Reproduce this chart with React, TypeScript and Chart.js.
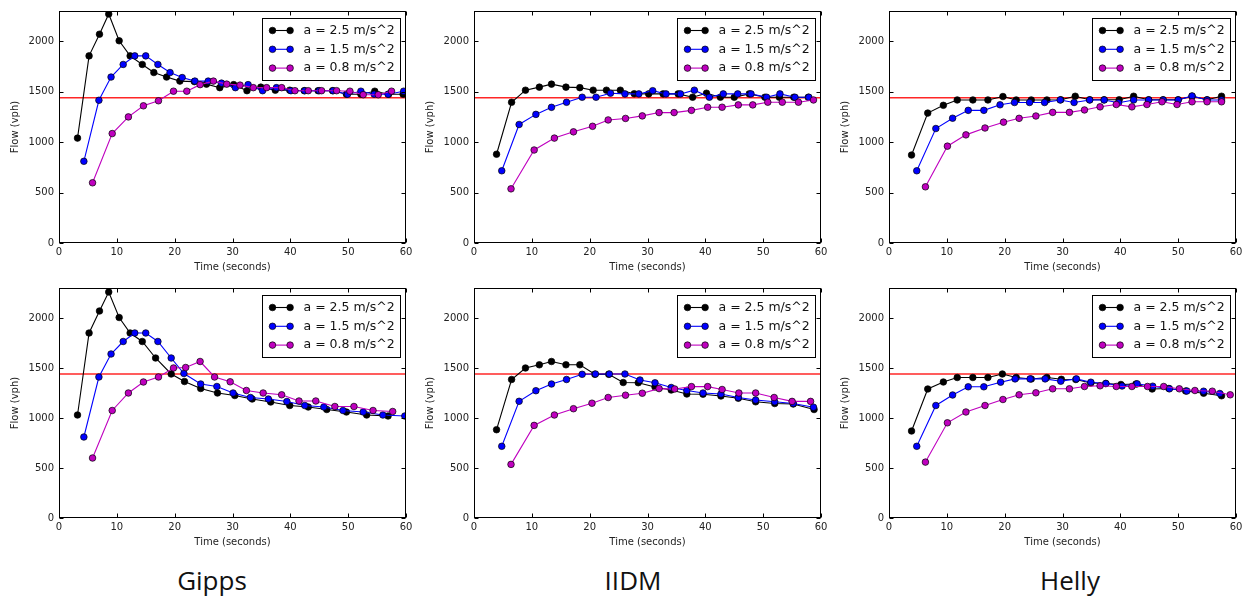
import React, { useEffect, useRef } from "react";
import { Chart, registerables } from "chart.js";

Chart.register(...registerables);

// ---------- axes / labels ----------
const xTickValues = [0, 10, 20, 30, 40, 50, 60];
const yTickValues = [0, 500, 1000, 1500, 2000];
const xMin = 0;
const xMax = 60;
const yMin = 0;
const yMax = 2300;
const capacityFlow = 1440;
const xTitle = "Time (seconds)";
const yTitle = "Flow (vph)";
const seriesLabels = ["a = 2.5 m/s^2", "a = 1.5 m/s^2", "a = 0.8 m/s^2"];
const seriesColors = ["#000000", "#0000ff", "#bf00bf"];
const modelNames = ["Gipps", "IIDM", "Helly"];

// ---------- data: [time (s), flow (vph)] ----------
const gippsTopA25: [number, number][] = [[3.2,1040],[5.2,1855],[7.0,2070],[8.6,2270],[10.4,2005],[12.3,1855],[14.4,1770],[16.4,1690],[18.6,1645],[20.9,1605],[23.4,1600],[25.5,1575],[27.8,1540],[30.2,1570],[32.5,1510],[34.9,1545],[37.4,1515],[39.9,1515],[42.4,1510],[44.8,1510],[47.3,1510],[49.7,1475],[52.2,1475],[54.6,1505],[57.0,1475],[59.5,1475]];
const gippsTopA15: [number, number][] = [[4.3,810],[6.9,1415],[9.0,1645],[11.1,1770],[13.1,1855],[15.0,1855],[17.1,1770],[19.2,1690],[21.3,1640],[23.5,1605],[25.8,1605],[28.1,1585],[30.5,1540],[32.7,1570],[35.2,1510],[37.6,1540],[40.1,1510],[42.5,1510],[45.0,1510],[47.4,1510],[49.9,1475],[52.2,1505],[54.5,1475],[56.9,1475],[59.6,1505]];
const gippsTopA08: [number, number][] = [[5.8,597],[9.2,1085],[12.0,1250],[14.6,1360],[17.2,1410],[19.8,1505],[22.1,1505],[24.4,1570],[26.7,1605],[29.0,1575],[31.3,1565],[33.6,1540],[35.9,1540],[38.5,1540],[40.8,1510],[43.1,1510],[45.4,1510],[48.0,1510],[50.3,1505],[52.6,1470],[55.2,1470],[57.5,1505]];

const gippsBotA25: [number, number][] = [[3.2,1030],[5.2,1850],[7.0,2070],[8.6,2260],[10.4,2005],[12.3,1850],[14.4,1765],[16.7,1600],[19.4,1440],[21.7,1365],[24.5,1295],[27.4,1250],[30.4,1225],[33.4,1190],[36.6,1160],[39.9,1125],[43.1,1110],[46.3,1085],[49.7,1060],[53.2,1030],[56.9,1020]];
const gippsBotA15: [number, number][] = [[4.3,810],[6.9,1410],[9.0,1640],[11.1,1765],[13.1,1850],[15.0,1850],[17.1,1765],[19.4,1600],[21.6,1445],[24.5,1340],[27.3,1315],[30.1,1250],[33.1,1205],[36.2,1190],[39.4,1165],[42.5,1125],[45.8,1110],[49.1,1075],[52.6,1060],[56.0,1030],[59.8,1020]];
const gippsBotA08: [number, number][] = [[5.8,600],[9.2,1075],[12.0,1250],[14.6,1360],[17.2,1410],[19.8,1500],[21.9,1505],[24.4,1565],[26.9,1410],[29.6,1362],[32.4,1275],[35.3,1250],[38.5,1232],[41.5,1170],[44.4,1170],[47.7,1115],[51.0,1115],[54.3,1075],[57.7,1065]];

const iidmTopA25: [number, number][] = [[3.9,880],[6.5,1395],[8.9,1515],[11.3,1545],[13.4,1575],[15.9,1545],[18.3,1540],[20.6,1515],[22.9,1515],[25.3,1515],[27.7,1480],[30.2,1478],[32.7,1478],[35.3,1478],[37.8,1445],[40.2,1485],[42.6,1445],[45.0,1445],[47.6,1478],[50.3,1445],[52.8,1445],[55.3,1445],[57.8,1445]];
const iidmTopA15: [number, number][] = [[4.8,716],[7.8,1175],[10.7,1275],[13.4,1345],[16.0,1395],[18.7,1445],[21.1,1445],[23.6,1485],[26.1,1478],[28.5,1478],[30.9,1510],[33.2,1478],[35.7,1478],[38.1,1515],[40.7,1445],[43.1,1478],[45.6,1478],[47.9,1478],[50.6,1445],[52.9,1478],[55.5,1445],[57.9,1445]];
const iidmTopA08: [number, number][] = [[6.4,537],[10.4,922],[13.9,1040],[17.2,1102],[20.5,1157],[23.2,1220],[26.2,1235],[29.1,1260],[32.0,1293],[34.6,1293],[37.6,1315],[40.4,1346],[42.9,1346],[45.7,1369],[48.2,1369],[50.8,1396],[53.3,1396],[56.1,1396],[58.7,1418]];

const iidmBotA25: [number, number][] = [[3.9,883],[6.5,1385],[8.9,1500],[11.3,1532],[13.4,1565],[15.9,1532],[18.3,1532],[20.9,1437],[23.3,1437],[25.8,1355],[28.4,1353],[31.3,1310],[34.1,1280],[36.8,1240],[39.6,1238],[42.7,1220],[45.7,1198],[48.7,1162],[52.0,1145],[55.2,1140],[58.8,1085]];
const iidmBotA15: [number, number][] = [[4.8,717],[7.8,1167],[10.7,1273],[13.4,1340],[16.0,1385],[18.7,1437],[21.0,1440],[23.4,1440],[26.1,1440],[28.7,1380],[31.3,1352],[34.1,1305],[36.8,1275],[39.6,1250],[42.7,1240],[45.7,1205],[48.7,1180],[52.0,1162],[55.2,1145],[58.7,1108]];
const iidmBotA08: [number, number][] = [[6.4,536],[10.4,926],[13.9,1030],[17.2,1093],[20.4,1148],[23.2,1205],[26.2,1228],[29.1,1248],[32.0,1294],[34.7,1290],[37.6,1314],[40.4,1314],[42.9,1285],[45.8,1250],[48.7,1250],[51.9,1205],[55.0,1166],[58.2,1166]];

const hellyTopA25: [number, number][] = [[3.9,872],[6.7,1288],[9.4,1365],[11.8,1418],[14.5,1418],[17.1,1418],[19.7,1452],[22.0,1418],[24.6,1418],[27.3,1418],[29.7,1420],[32.2,1455],[34.7,1420],[37.2,1420],[39.8,1420],[42.3,1455],[44.9,1420],[47.4,1420],[50.0,1420],[52.4,1455],[55.0,1420],[57.5,1455]];
const hellyTopA15: [number, number][] = [[4.8,716],[8.1,1135],[11.0,1237],[13.7,1315],[16.4,1315],[19.2,1370],[21.7,1393],[24.3,1393],[26.9,1393],[29.6,1418],[32.0,1393],[34.7,1418],[37.2,1418],[39.7,1390],[42.3,1418],[44.9,1418],[47.4,1418],[50.0,1418],[52.4,1458],[55.0,1418],[57.5,1418]];
const hellyTopA08: [number, number][] = [[6.3,557],[10.1,960],[13.3,1072],[16.6,1140],[19.8,1198],[22.5,1236],[25.4,1259],[28.3,1295],[31.2,1295],[33.8,1319],[36.5,1350],[39.3,1373],[42.0,1350],[44.6,1373],[47.2,1400],[49.8,1373],[52.4,1400],[55.0,1400],[57.5,1400]];

const hellyBotA25: [number, number][] = [[3.9,870],[6.7,1290],[9.4,1360],[11.8,1405],[14.5,1405],[17.1,1405],[19.6,1440],[22.0,1405],[24.6,1390],[27.3,1405],[29.8,1387],[32.3,1385],[34.9,1350],[37.5,1345],[40.1,1335],[42.7,1340],[45.5,1290],[48.4,1295],[51.3,1270],[54.4,1248],[57.5,1222]];
const hellyBotA15: [number, number][] = [[4.8,717],[8.1,1125],[11.0,1230],[13.7,1312],[16.4,1312],[19.3,1358],[21.8,1391],[24.4,1391],[27.0,1391],[29.7,1368],[32.4,1391],[34.9,1358],[37.5,1345],[40.3,1320],[42.9,1342],[45.6,1318],[48.5,1292],[51.5,1270],[54.4,1268],[57.2,1245]];
const hellyBotA08: [number, number][] = [[6.3,559],[10.1,952],[13.3,1060],[16.6,1125],[19.7,1185],[22.5,1232],[25.4,1252],[28.3,1292],[31.2,1292],[33.8,1315],[36.5,1322],[39.3,1315],[42.0,1315],[44.7,1315],[47.5,1315],[50.2,1292],[52.9,1275],[55.9,1268],[59.0,1232]];

// ---------- layout ----------
const PLOT_W = 347;
const AXIS_W = 50;
const PAD_TOP = 10;
const PAD_RIGHT = 12;
const AXIS_H = 30;
const FONT = "'DejaVu Sans', 'Liberation Sans', sans-serif";

const framePlugin = {
  id: "mplFrame",
  afterDraw(chart: any) {
    const { ctx, chartArea: a, scales } = chart;
    const xs = scales.x;
    const ys = scales.y;
    ctx.save();
    ctx.strokeStyle = "#000";
    ctx.lineWidth = 1;
    const L = Math.round(a.left) + 0.5;
    const R = Math.round(a.right) - 0.5;
    const T = Math.round(a.top) + 0.5;
    const B = Math.round(a.bottom) - 0.5;
    const tl = 4;
    ctx.beginPath();
    for (const v of xTickValues) {
      const px = Math.round(xs.getPixelForValue(v)) + 0.5;
      ctx.moveTo(px, B); ctx.lineTo(px, B - tl);
      ctx.moveTo(px, T); ctx.lineTo(px, T + tl);
    }
    for (const v of yTickValues) {
      const py = Math.round(ys.getPixelForValue(v)) + 0.5;
      ctx.moveTo(L, py); ctx.lineTo(L + tl, py);
      ctx.moveTo(R, py); ctx.lineTo(R - tl, py);
    }
    ctx.stroke();
    ctx.strokeRect(L, T, R - L, B - T);

    // legend (upper right)
    const bw = 138, bh = 62;
    const x0 = Math.round(a.right - 6 - bw) + 0.5;
    const y0 = Math.round(a.top + 7) + 0.5;
    ctx.fillStyle = "#fff";
    ctx.fillRect(x0, y0, bw, bh);
    ctx.strokeStyle = "#000";
    ctx.lineWidth = 1;
    ctx.strokeRect(x0, y0, bw, bh);
    ctx.font = `12.5px ${FONT}`;
    ctx.textBaseline = "middle";
    ctx.textAlign = "left";
    seriesLabels.forEach((lab, i) => {
      const yy = y0 + 12 + i * 18.8;
      const m1 = x0 + 10, m2 = x0 + 27.6;
      ctx.strokeStyle = seriesColors[i];
      ctx.lineWidth = 1.1;
      ctx.beginPath(); ctx.moveTo(m1, yy); ctx.lineTo(m2, yy); ctx.stroke();
      for (const mx of [m1, m2]) {
        ctx.beginPath();
        ctx.arc(mx, yy, 3.3, 0, Math.PI * 2);
        ctx.fillStyle = seriesColors[i];
        ctx.fill();
        ctx.strokeStyle = "#000";
        ctx.lineWidth = 0.7;
        ctx.stroke();
      }
      ctx.fillStyle = "#111";
      ctx.fillText(lab, x0 + 41, yy);
    });
    ctx.restore();
  },
};

type Series = [number, number][];

function Panel({ series, left, top, plotH }: { series: Series[]; left: number; top: number; plotH: number }) {
  const ref = useRef<HTMLCanvasElement>(null);
  const cw = AXIS_W + PLOT_W + PAD_RIGHT;
  const ch = PAD_TOP + plotH + AXIS_H;
  useEffect(() => {
    if (!ref.current) return;
    const datasets: any[] = [
      {
        label: "capacity",
        data: [{ x: xMin, y: capacityFlow }, { x: xMax, y: capacityFlow }],
        borderColor: "rgba(255,0,0,0.85)",
        borderWidth: 1.6,
        pointRadius: 0,
        showLine: true,
        order: 4,
      },
      ...series.map((s, i) => ({
        label: seriesLabels[i],
        data: s.map(([x, y]) => ({ x, y })),
        borderColor: seriesColors[i],
        backgroundColor: seriesColors[i],
        pointBackgroundColor: seriesColors[i],
        pointBorderColor: "#000",
        pointBorderWidth: 0.7,
        pointRadius: 3.3,
        borderWidth: 1.1,
        showLine: true,
        order: 3 - i,
      })),
    ];
    const tickFont = { family: FONT, size: 10 };
    const plain = (v: any) => String(v);
    const chart = new Chart(ref.current, {
      type: "scatter",
      data: { datasets },
      options: {
        responsive: false,
        animation: false,
        devicePixelRatio: 1,
        layout: { padding: { top: PAD_TOP, right: PAD_RIGHT, left: 0, bottom: 0 } },
        plugins: { legend: { display: false }, tooltip: { enabled: false } },
        scales: {
          x: {
            type: "linear",
            bounds: "data",
            min: xMin,
            max: xMax,
            afterBuildTicks: (s: any) => { s.ticks = xTickValues.map((v) => ({ value: v })); },
            afterFit: (s: any) => { s.height = AXIS_H; },
            grid: { display: false, drawTicks: false },
            border: { display: false },
            ticks: { padding: 3, color: "#222", font: tickFont, maxRotation: 0, autoSkip: false, callback: plain },
            title: { display: true, text: xTitle, color: "#222", font: tickFont, padding: 0 },
          },
          y: {
            type: "linear",
            bounds: "data",
            min: yMin,
            max: yMax,
            afterBuildTicks: (s: any) => { s.ticks = yTickValues.map((v) => ({ value: v })); },
            afterFit: (s: any) => { s.width = AXIS_W; },
            grid: { display: false, drawTicks: false },
            border: { display: false },
            ticks: { padding: 5, color: "#222", font: tickFont, autoSkip: false, callback: plain },
            title: { display: true, text: yTitle, color: "#222", font: tickFont, padding: 0 },
          },
        },
      } as any,
      plugins: [framePlugin],
    });
    return () => chart.destroy();
  }, []);
  return (
    <canvas
      ref={ref}
      width={cw}
      height={ch}
      style={{ position: "absolute", left: left - AXIS_W, top: top - PAD_TOP, width: cw, height: ch }}
    />
  );
}

const colLefts = [59, 474, 889];
const rowTops = [10, 287];
const rowHeights = [233, 231];
const labelCenters = [212, 633, 1070];

const topRow: Series[][] = [
  [gippsTopA25, gippsTopA15, gippsTopA08],
  [iidmTopA25, iidmTopA15, iidmTopA08],
  [hellyTopA25, hellyTopA15, hellyTopA08],
];
const bottomRow: Series[][] = [
  [gippsBotA25, gippsBotA15, gippsBotA08],
  [iidmBotA25, iidmBotA15, iidmBotA08],
  [hellyBotA25, hellyBotA15, hellyBotA08],
];

export default function App() {
  return (
    <div style={{ position: "fixed", left: 0, top: 0, width: 1243, height: 597, background: "#fff", overflow: "hidden" }}>
      {[topRow, bottomRow].map((row, r) =>
        row.map((series, c) => (
          <Panel key={`${r}-${c}`} series={series} left={colLefts[c]} top={rowTops[r]} plotH={rowHeights[r]} />
        ))
      )}
      {modelNames.map((name, i) => (
        <div
          key={name}
          style={{
            position: "absolute",
            left: labelCenters[i] - 100,
            top: 567,
            width: 200,
            textAlign: "center",
            fontFamily: "'Open Sans', 'Noto Sans', sans-serif",
            fontSize: 26,
            lineHeight: "26px",
            color: "#111",
          }}
        >
          {name}
        </div>
      ))}
    </div>
  );
}
